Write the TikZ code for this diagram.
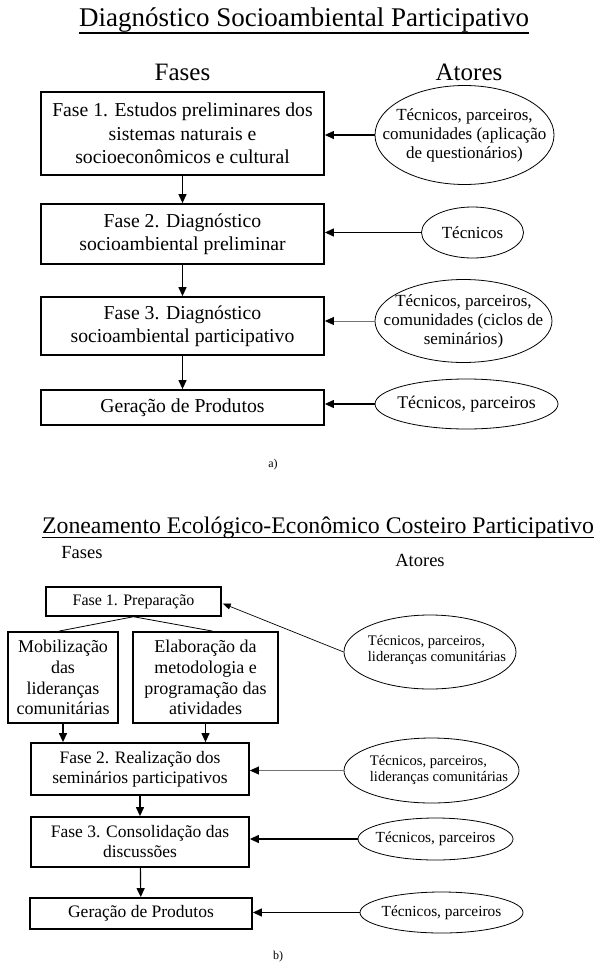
\documentclass[tikz,border=0pt]{standalone}
\usepackage{fontspec}
\setmainfont{Liberation Serif}
\usetikzlibrary{arrows.meta,calc,shapes.geometric}
\begin{document}
\begin{tikzpicture}[x=1pt,y=-1pt,
  box/.style={draw, line width=1.8pt, inner sep=0pt, align=center},
  actor/.style={draw, ellipse, line width=0.8pt, inner sep=0pt},
  atext/.style={align=center, inner sep=0pt},
  ltext/.style={align=left, inner sep=0pt},
  arr/.style={line width=1.2pt, -{Triangle[length=9pt,width=8pt]}},
  garr/.style={line width=0.7pt, draw=black!55, -{Triangle[length=9pt,width=8pt,color=black]}},
  tarr/.style={line width=0.7pt, -{Triangle[length=8pt,width=6pt]}},
  head/.style={inner sep=0pt},
  fbig/.style={font=\fontsize{19.7}{23.5}\selectfont},
  fell/.style={font=\fontsize{17}{19}\selectfont},
  fsm/.style={font=\fontsize{17.5}{20}\selectfont},
  fsell/.style={font=\fontsize{14.6}{16.5}\selectfont}
]
\useasboundingbox[fill=white] (0,0) rectangle (605,971);

% ---------- a) ----------
\node[anchor=base, inner sep=0pt, font=\fontsize{27}{30}\selectfont] (t1) at (304,27) {Diagnóstico Socioambiental Participativo};
\draw[line width=1.1pt] ($(t1.base west)+(0,6)$) -- ($(t1.base east)+(0,6)$);
\node[head, font=\fontsize{25}{28}\selectfont] (fa) at (182.5,72) {Fases};
\node[head, font=\fontsize{25}{28}\selectfont] (aa) at (469,72) {Atores};

\node[box, fbig, minimum width=283pt, minimum height=83pt] (p1) at (182.5,133.5) {Fase 1. Estudos preliminares dos\\sistemas naturais e\\socioeconômicos e cultural};
\node[box, fbig, minimum width=283pt, minimum height=60pt] (p2) at (182.5,234) {Fase 2. Diagnóstico\\socioambiental preliminar};
\node[box, fbig, minimum width=283pt, minimum height=58pt] (p3) at (182.5,326) {Fase 3. Diagnóstico\\socioambiental participativo};
\node[box, fbig, minimum width=283pt, minimum height=35pt] (p4) at (182.5,407.5) {Geração de Produtos};

\node[actor, minimum width=179pt, minimum height=99pt] (e1) at (464.5,135) {};
\node[atext, fell] (e1t) at (e1) {Técnicos, parceiros,\\comunidades (aplicação\\de questionários)};
\node[actor, minimum width=102pt, minimum height=51pt] (e2) at (472.5,232.5) {};
\node[atext, fell] (e2t) at (e2) {Técnicos};
\node[actor, minimum width=177pt, minimum height=83pt] (e3) at (463.5,321) {};
\node[atext, fell] (e3t) at (e3) {Técnicos, parceiros,\\comunidades (ciclos de\\seminários)};
\node[actor, minimum width=183pt, minimum height=50pt] (e4) at (466.5,404) {};
\node[atext, font=\fontsize{17.8}{20}\selectfont] (e4t) at (e4) {Técnicos, parceiros};

\draw[arr] (p1) -- (p2);
\draw[arr] (p2) -- (p3);
\draw[arr] (p3) -- (p4);
\draw[arr] (e1.west) -- (e1.west -| p1.east);
\draw[arr] (e2.west) -- (e2.west -| p2.east);
\draw[garr] (e3.west) -- (e3.west -| p3.east);
\draw[arr] (e4.west) -- (e4.west -| p4.east);

\node[head, font=\fontsize{12}{14}\selectfont] (la) at (273,465) {a)};

% ---------- b) ----------
\node[anchor=base, inner sep=0pt, font=\fontsize{23.8}{26}\selectfont] (t2) at (318,533) {Zoneamento Ecológico-Econômico Costeiro Participativo};
\draw[line width=1.1pt] ($(t2.base west)+(0,4.5)$) -- ($(t2.base east)+(0,4.5)$);
\node[head, font=\fontsize{18.5}{21}\selectfont] (fb) at (82,553) {Fases};
\node[head, font=\fontsize{18.5}{21}\selectfont] (ab) at (420,560) {Atores};

\node[box, line width=1.4pt, font=\fontsize{16}{18}\selectfont, minimum width=175pt, minimum height=29pt] (q1) at (133.5,601.5) {Fase 1. Preparação};
\node[box, font=\fontsize{18}{20.7}\selectfont, minimum width=110pt, minimum height=91pt] (m) at (63,677.5) {Mobilização\\das\\lideranças\\comunitárias};
\node[box, font=\fontsize{18}{20.7}\selectfont, minimum width=145pt, minimum height=91pt] (el) at (205.5,677.5) {Elaboração da\\metodologia e\\programação das\\atividades};
\node[box, fsm, minimum width=218pt, minimum height=52pt] (q2) at (140,769) {Fase 2. Realização dos\\seminários participativos};
\node[box, fsm, minimum width=218pt, minimum height=50pt] (q3) at (140,842) {Fase 3. Consolidação das\\discussões};
\node[box, fsm, minimum width=222pt, minimum height=31pt] (q4) at (141,913.5) {Geração de Produtos};

\draw[line width=0.8pt] (q1.south) -- ($(m.north)+(-4,0)$);
\draw[line width=0.8pt] (q1.south) -- ($(el.north)+(7,0)$);
\draw[arr] (m.south) -- (m.south |- q2.north);
\draw[arr] (el.south) -- (el.south |- q2.north);
\draw[arr] (q2) -- (q3);
\draw[arr] (q3) -- (q4);

\node[actor, minimum width=172pt, minimum height=74pt] (b1) at (430,652) {};
\node[ltext, fsell] (b1t) at (437,650) {Técnicos, parceiros,\\lideranças comunitárias};
\node[actor, minimum width=175pt, minimum height=65pt] (b2) at (431.5,770.5) {};
\node[ltext, fsell] (b2t) at (439,770) {Técnicos, parceiros,\\lideranças comunitárias};
\node[actor, minimum width=155pt, minimum height=42pt] (b3) at (435.5,839) {};
\node[atext, font=\fontsize{15.4}{17}\selectfont] (b3t) at (b3) {Técnicos, parceiros};
\node[actor, minimum width=163pt, minimum height=41pt] (b4) at (441.5,912.5) {};
\node[atext, font=\fontsize{15.4}{17}\selectfont] (b4t) at (b4) {Técnicos, parceiros};

\draw[tarr] (b1.west) -- ($(q1.east)+(1,2)$);
\draw[garr] (b2.west) -- (b2.west -| q2.east);
\draw[arr] (b3.west) -- (b3.west -| q3.east);
\draw[arr] (b4.west) -- (b4.west -| q4.east);

\node[head, font=\fontsize{12}{14}\selectfont] (lb) at (278,957) {b)};
\end{tikzpicture}
\end{document}
